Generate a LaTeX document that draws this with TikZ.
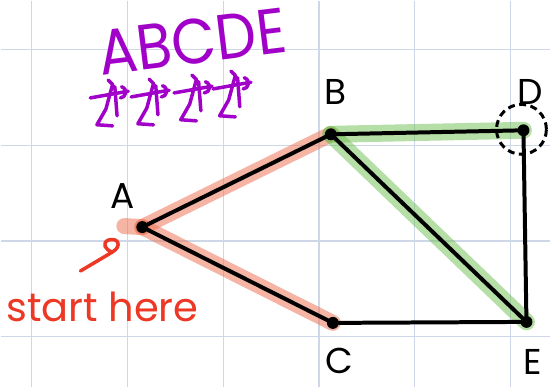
\documentclass[tikz,border=0pt]{standalone}
\usepackage{fontspec}
\setmainfont{Poppins}
\usepackage{tikz}
\usetikzlibrary{positioning,backgrounds}
\definecolor{gridblue}{RGB}{205,215,232}
\definecolor{salmonhl}{RGB}{238,120,90}
\definecolor{greenhl}{RGB}{110,190,80}
\definecolor{penred}{RGB}{236,56,36}
\definecolor{penpurple}{RGB}{160,0,200}
\tikzset{
  gridline/.style={gridblue, line width=1.2pt},
  vertex/.style={circle, fill=black, inner sep=0pt, minimum size=12pt},
  edgeline/.style={black, line width=4pt, line cap=round},
  redpath/.style={salmonhl, opacity=0.55, line width=16pt, line cap=round},
  greenpath/.style={greenhl, opacity=0.5, line width=17pt, line cap=round},
  letter/.style={font=\fontsize{36}{36}\selectfont, inner sep=0pt},
  scrawl/.style={penred, font=\fontsize{40}{40}\selectfont, inner sep=0pt},
  penline/.style={line width=3.5pt, line cap=round, line join=round}
}
\begin{document}
\begin{tikzpicture}[x=1pt,y=-1pt]
    % paper and grid
    \begin{scope}[on background layer]
        \fill[white] (0,0) rectangle (551,387);
        \foreach \gx in {31,127,223,319,415,511}
            \draw[gridline] (\gx,0) -- (\gx,387);
        \foreach \gy in {49,145,241,337}
            \draw[gridline] (0,\gy) -- (551,\gy);
    \end{scope}
    \useasboundingbox (0,0) rectangle (551,387);

    % vertices
    \node[vertex] (A) at (142,227) {};
    \node[vertex] (B) at (331,134) {};
    \node[vertex] (C) at (333,323) {};
    \node[vertex] (D) at (524,130) {};
    \node[vertex] (E) at (527,322) {};
    \coordinate (A-tail) at (124,226);

    % highlighted paths
    \begin{scope}[on background layer]
        \draw[redpath] (A-tail) -- (A.center);
        \draw[redpath] (A.center) -- (B.center);
        \draw[redpath] (A.center) -- (C.center);
        \draw[greenpath] (B.center) -- (D.center);
        \draw[greenpath] (B.center) -- (E.center);
    \end{scope}

    % edges
    \draw[edgeline] (A) -- (B);
    \draw[edgeline] (A) -- (C);
    \draw[edgeline] (B) -- (D);
    \draw[edgeline] (B) -- (E);
    \draw[edgeline] (C) -- (E);
    \draw[edgeline] (D) -- (E);

    % mark on D
    \node[circle, draw=black, dashed, dash pattern=on 7pt off 4.5pt, line width=3pt, minimum size=50pt] (D-ring) at (522,129) {};

    % labels
    \node[letter] (A-label) at (122,196) {A};
    \node[letter] (B-label) at (336,92) {B};
    \node[letter] (C-label) at (340,361) {C};
    \node[letter] (D-label) at (531,92) {D};
    \node[letter] (E-label) at (533,362) {E};

    % start note
    \node[scrawl] (start) at (102,307) {start here};
    \coordinate (start-tail) at (80,271);
    \coordinate (start-tip) at (112,252);
    \draw[penred, penline] (start-tail) -- (start-tip)
        .. controls (122,246) and (118,237) .. (108,240)
        .. controls (101,243) and (105,250) .. (start-tip);

    % visiting order
    \node[penpurple, font=\fontsize{64}{64}\selectfont, inner sep=0pt, rotate=7, xscale=0.9] (order) at (192,41) {ABCDE};
    \foreach \mx/\my in {110/102, 151/101, 194/97, 233/93}
        \draw[penpurple, penline, shift={(\mx,\my)}, scale=1.12]
            (-18,-4) -- (16,-10)
            (-2,-20) -- (2,-16) -- (-4,6) -- (-12,20) -- (2,21)
            (4,-14) -- (6,12)
            (10,-14) .. controls (16,-12) and (14,-4) .. (9,-4);
\end{tikzpicture}
\end{document}
